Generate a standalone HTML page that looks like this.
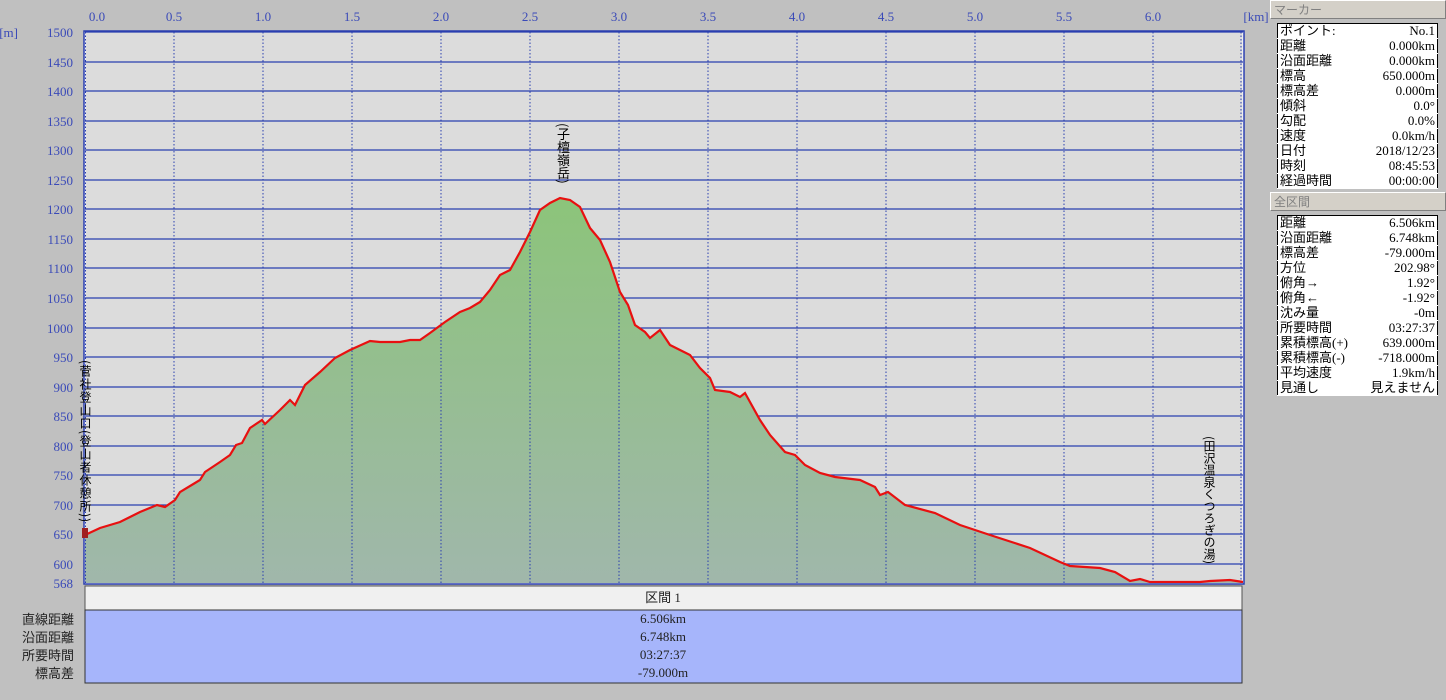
<!DOCTYPE html>
<html><head><meta charset="utf-8"><style>
body{margin:0;width:1446px;height:700px;background:#c0c0c0;overflow:hidden;font-family:"Liberation Serif","Noto Sans CJK JP",serif;position:relative}
.v{position:absolute;writing-mode:vertical-rl;font-size:12px;color:#000;line-height:12px;font-family:"Noto Sans CJK JP",sans-serif}
.panel{position:absolute;left:1270px;width:176px;font-family:"Liberation Serif","Noto Sans CJK JP",serif;font-size:13px}
.hd{height:17px;background:#d4d0c8;border:1px solid #fff;border-right-color:#808080;border-bottom-color:#808080;color:#808080;padding-left:3px;line-height:17px;font-family:"Noto Sans CJK JP",sans-serif;font-size:12px}
table{border-collapse:collapse;background:#fff;margin-left:7px;width:161px;border:1px solid #000}
td{padding:0 2px;height:14px;line-height:14px;white-space:nowrap;border-bottom:1px solid #fff}
td:last-child{text-align:right}
</style></head><body>
<svg width="1446" height="700" style="position:absolute;left:0;top:0" font-family="Liberation Serif, Noto Sans CJK JP, serif">
<defs><linearGradient id="g" x1="0" y1="0" x2="0" y2="1"><stop offset="0" stop-color="#8cc47a"/><stop offset="1" stop-color="#a0b7ab"/></linearGradient></defs>
<rect x="85" y="32" width="1158" height="551" fill="#dcdcdc" stroke="#fff"/>
<g stroke="#2a3fb0" stroke-width="1.3">
<line x1="85" x2="1243" y1="32" y2="32"/><line x1="85" x2="1243" y1="62" y2="62"/><line x1="85" x2="1243" y1="91" y2="91"/><line x1="85" x2="1243" y1="121" y2="121"/><line x1="85" x2="1243" y1="150" y2="150"/><line x1="85" x2="1243" y1="180" y2="180"/><line x1="85" x2="1243" y1="209" y2="209"/><line x1="85" x2="1243" y1="239" y2="239"/><line x1="85" x2="1243" y1="268" y2="268"/><line x1="85" x2="1243" y1="298" y2="298"/><line x1="85" x2="1243" y1="328" y2="328"/><line x1="85" x2="1243" y1="357" y2="357"/><line x1="85" x2="1243" y1="387" y2="387"/><line x1="85" x2="1243" y1="416" y2="416"/><line x1="85" x2="1243" y1="446" y2="446"/><line x1="85" x2="1243" y1="475" y2="475"/><line x1="85" x2="1243" y1="505" y2="505"/><line x1="85" x2="1243" y1="534" y2="534"/><line x1="85" x2="1243" y1="564" y2="564"/>
</g>
<polygon fill="url(#g)" points="85,583 85,535 100,528 120,522 140,512 157,505 165,507 175,500 180,492 195,483 200,480 205,472 220,462 230,455 236,445 242,443 250,428 262,420 265,424 280,410 290,400 295,405 305,385 320,372 335,358 350,350 370,341 380,342 400,342 410,340 420,340 430,333 445,322 460,312 470,308 480,302 490,290 500,275 510,270 520,252 530,232 540,210 550,203 560,198 570,200 580,207 590,228 600,240 610,262 620,292 628,305 635,325 645,332 650,338 660,330 670,345 690,355 700,368 710,378 715,390 730,392 740,397 745,393 760,420 770,435 785,452 795,455 805,465 820,473 835,477 860,480 875,487 880,495 888,492 905,505 935,513 960,525 990,535 1030,548 1060,562 1070,566 1100,568 1115,572 1130,581 1140,579 1150,582 1200,582 1210,581 1230,580 1243,582 1243,583"/>
<g stroke="#2a3fb0" stroke-dasharray="1.5,2" stroke-width="1">
<line x1="174" x2="174" y1="32" y2="583"/><line x1="263" x2="263" y1="32" y2="583"/><line x1="352" x2="352" y1="32" y2="583"/><line x1="441" x2="441" y1="32" y2="583"/><line x1="530" x2="530" y1="32" y2="583"/><line x1="619" x2="619" y1="32" y2="583"/><line x1="708" x2="708" y1="32" y2="583"/><line x1="797" x2="797" y1="32" y2="583"/><line x1="886" x2="886" y1="32" y2="583"/><line x1="975" x2="975" y1="32" y2="583"/><line x1="1064" x2="1064" y1="32" y2="583"/><line x1="1153" x2="1153" y1="32" y2="583"/><line x1="85.5" x2="85.5" y1="32" y2="583"/><line x1="1241" x2="1241" y1="32" y2="583"/>
</g>
<polyline fill="none" stroke="#e81010" stroke-width="2.2" points="85,535 100,528 120,522 140,512 157,505 165,507 175,500 180,492 195,483 200,480 205,472 220,462 230,455 236,445 242,443 250,428 262,420 265,424 280,410 290,400 295,405 305,385 320,372 335,358 350,350 370,341 380,342 400,342 410,340 420,340 430,333 445,322 460,312 470,308 480,302 490,290 500,275 510,270 520,252 530,232 540,210 550,203 560,198 570,200 580,207 590,228 600,240 610,262 620,292 628,305 635,325 645,332 650,338 660,330 670,345 690,355 700,368 710,378 715,390 730,392 740,397 745,393 760,420 770,435 785,452 795,455 805,465 820,473 835,477 860,480 875,487 880,495 888,492 905,505 935,513 960,525 990,535 1030,548 1060,562 1070,566 1100,568 1115,572 1130,581 1140,579 1150,582 1200,582 1210,581 1230,580 1243,582"/>
<rect x="84" y="31" width="1160" height="553" fill="none" stroke="#2a3fb0" stroke-width="1.5"/>
<rect x="82" y="528" width="6" height="10" fill="#a02020"/>
<g fill="#3a4ab8" font-size="13" text-anchor="end">
<text x="73" y="37">1500</text><text x="73" y="67">1450</text><text x="73" y="96">1400</text><text x="73" y="126">1350</text><text x="73" y="155">1300</text><text x="73" y="185">1250</text><text x="73" y="214">1200</text><text x="73" y="244">1150</text><text x="73" y="273">1100</text><text x="73" y="303">1050</text><text x="73" y="333">1000</text><text x="73" y="362">950</text><text x="73" y="392">900</text><text x="73" y="421">850</text><text x="73" y="451">800</text><text x="73" y="480">750</text><text x="73" y="510">700</text><text x="73" y="539">650</text><text x="73" y="569">600</text><text x="73" y="588">568</text>
<text x="18" y="37">[m]</text>
</g>
<g fill="#3a4ab8" font-size="13" text-anchor="middle">
<text x="97" y="21">0.0</text><text x="174" y="21">0.5</text><text x="263" y="21">1.0</text><text x="352" y="21">1.5</text><text x="441" y="21">2.0</text><text x="530" y="21">2.5</text><text x="619" y="21">3.0</text><text x="708" y="21">3.5</text><text x="797" y="21">4.0</text><text x="886" y="21">4.5</text><text x="975" y="21">5.0</text><text x="1064" y="21">5.5</text><text x="1153" y="21">6.0</text><text x="1256" y="21">[km]</text>
</g>
<rect x="85" y="586" width="1157" height="24" fill="#f0f0f0" stroke="#555"/>
<rect x="85" y="610" width="1157" height="73" fill="#a6b5fb" stroke="#333"/>
<g font-size="13" fill="#222" text-anchor="middle">
<text x="663" y="602">区間 1</text><text x="663" y="623">6.506km</text><text x="663" y="641">6.748km</text><text x="663" y="659">03:27:37</text><text x="663" y="677">-79.000m</text>
</g>
<g font-size="13" fill="#222" text-anchor="end" font-family="Noto Sans CJK JP, sans-serif">
<text x="74" y="624">直線距離</text><text x="74" y="642">沿面距離</text><text x="74" y="660">所要時間</text><text x="74" y="678">標高差</text>
</g>
</svg>
<div class="v" style="left:79px;top:360px;letter-spacing:1px;font-size:12px;line-height:12px">(菅社登山口(登山者休憩所))</div>
<div class="v" style="left:557px;top:123px;font-size:13px">(子檀嶺岳)</div>
<div class="v" style="left:1203px;top:436px">(田沢温泉くつろぎの湯)</div>
<div class="panel" style="top:0">
<div class="hd">マーカー</div>
<table style="margin-top:4px">
<tr><td>ポイント:</td><td>No.1</td></tr><tr><td>距離</td><td>0.000km</td></tr><tr><td>沿面距離</td><td>0.000km</td></tr><tr><td>標高</td><td>650.000m</td></tr><tr><td>標高差</td><td>0.000m</td></tr><tr><td>傾斜</td><td>0.0°</td></tr><tr><td>勾配</td><td>0.0%</td></tr><tr><td>速度</td><td>0.0km/h</td></tr><tr><td>日付</td><td>2018/12/23</td></tr><tr><td>時刻</td><td>08:45:53</td></tr><tr><td>経過時間</td><td>00:00:00</td></tr>
</table>
<div class="hd" style="margin-top:3px">全区間</div>
<table style="margin-top:4px">
<tr><td>距離</td><td>6.506km</td></tr><tr><td>沿面距離</td><td>6.748km</td></tr><tr><td>標高差</td><td>-79.000m</td></tr><tr><td>方位</td><td>202.98°</td></tr><tr><td>俯角→</td><td>1.92°</td></tr><tr><td>俯角←</td><td>-1.92°</td></tr><tr><td>沈み量</td><td>-0m</td></tr><tr><td>所要時間</td><td>03:27:37</td></tr><tr><td>累積標高(+)</td><td>639.000m</td></tr><tr><td>累積標高(-)</td><td>-718.000m</td></tr><tr><td>平均速度</td><td>1.9km/h</td></tr><tr><td>見通し</td><td>見えません</td></tr>
</table>
</div>
</body></html>
